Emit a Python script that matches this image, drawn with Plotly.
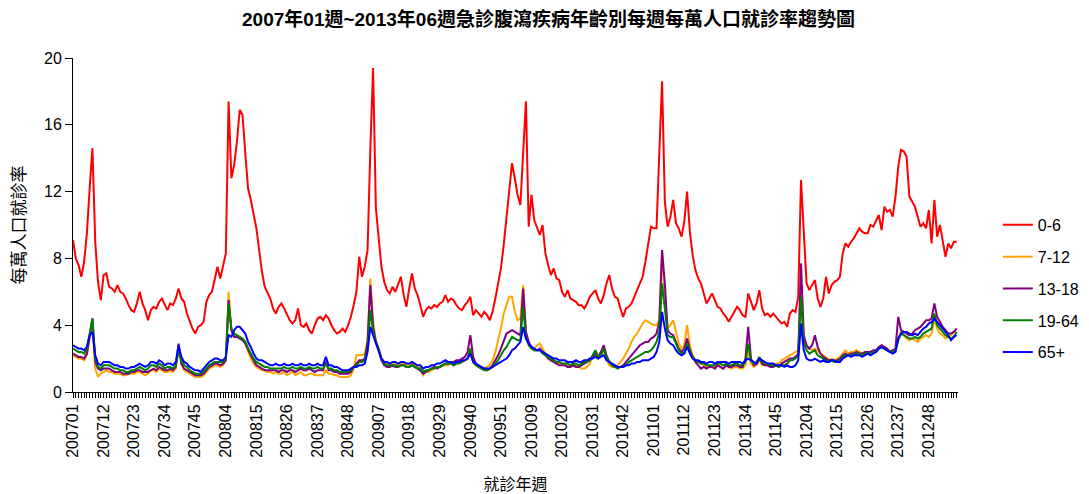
import plotly.graph_objects as go

# ---- categories ----
YEARS = [2007, 2008, 2009, 2010, 2011, 2012, 2013]
WEEKS_PER_YEAR = [52, 52, 53, 52, 52, 52, 6]
weeks = [f"{y}{w:02d}" for y, n in zip(YEARS, WEEKS_PER_YEAR) for w in range(1, n + 1)]

# ---- series values (per 10,000 population) ----
age_0_6 = (
    # 2007
    [9.1, 8.0, 7.6, 6.9, 7.8, 9.5, 12.2, 14.6, 9.0, 6.6,
     5.5, 7.0, 7.1, 6.3, 6.2, 6.0, 6.4, 6.0, 5.9, 5.6,
     5.2, 4.9, 4.8, 5.3, 6.0, 5.3, 4.9, 4.3, 4.9, 5.1,
     5.0, 5.4, 5.6, 5.2, 4.9, 5.3, 5.2, 5.6, 6.2, 5.6,
     5.4, 4.7, 4.2, 3.8, 3.5, 3.9, 4.0, 4.2, 5.4, 5.8,
     6.0, 6.8]
    # 2008
    + [7.5, 6.8, 7.6, 8.3, 17.4, 12.8, 13.6, 15.0, 16.9, 16.6,
       14.3, 12.2, 11.5, 10.6, 9.8, 8.5, 7.2, 6.3, 5.9, 5.6,
       5.0, 4.7, 5.1, 5.3, 5.0, 4.6, 4.3, 4.1, 4.3, 5.0,
       4.0, 3.9, 4.1, 3.7, 3.5, 4.0, 4.4, 4.5, 4.3, 4.6,
       4.4, 4.0, 3.7, 3.5, 3.6, 3.8, 3.6, 4.0, 4.5, 5.2,
       6.0, 8.1]
    # 2009
    + [6.9, 7.5, 8.5, 14.5, 19.4, 11.0, 9.1, 7.5, 6.6, 6.1,
       5.9, 6.3, 6.0, 6.4, 6.9, 5.8, 5.1, 6.2, 7.1, 6.2,
       5.8, 5.2, 4.5, 4.9, 5.1, 5.0, 5.2, 5.1, 5.3, 5.4,
       5.8, 5.4, 5.6, 5.5, 5.2, 5.0, 4.9, 5.2, 5.4, 5.7,
       4.6, 4.9, 4.7, 4.5, 4.8, 4.6, 4.3, 4.8, 5.6, 6.4,
       7.4, 8.8, 10.3]
    # 2010
    + [12.0, 13.7, 12.8, 11.8, 11.2, 14.0, 17.4, 9.9, 11.8, 10.3,
       9.9, 9.4, 10.0, 8.3, 7.6, 7.0, 7.4, 6.8, 6.7, 6.0,
       5.7, 6.1, 5.6, 5.5, 5.4, 5.2, 5.2, 5.0, 5.3, 5.7,
       5.9, 6.1, 5.6, 5.3, 5.8, 6.5, 7.0, 6.2, 5.7, 5.6,
       5.0, 4.5, 5.0, 5.1, 5.3, 5.7, 6.0, 6.5, 6.9, 7.8,
       9.0, 9.9]
    # 2011
    + [9.8, 9.8, 14.3, 18.6, 11.4, 9.9, 10.5, 11.5, 10.1, 9.8,
       9.3, 10.2, 12.0, 9.6, 8.2, 7.3, 6.8, 6.5, 5.9, 5.3,
       5.6, 5.9, 5.5, 5.1, 5.0, 4.7, 4.5, 4.2, 4.5, 4.8,
       5.1, 4.9, 4.6, 4.5, 5.9, 5.4, 4.9, 5.3, 6.1, 5.0,
       4.6, 4.7, 4.5, 4.7, 4.5, 4.3, 4.1, 4.2, 3.9, 4.7,
       4.9, 4.8]
    # 2012
    + [5.7, 12.7, 9.7, 6.5, 6.1, 6.4, 6.7, 5.6, 5.1, 5.6,
       6.9, 5.9, 6.4, 6.6, 6.7, 6.9, 8.3, 8.9, 8.7, 9.0,
       9.2, 9.5, 9.8, 9.6, 9.5, 9.5, 10.0, 9.9, 10.3, 10.6,
       9.7, 11.1, 10.8, 10.9, 10.5, 11.7, 13.5, 14.5, 14.4, 14.1,
       11.7, 11.4, 11.1, 10.5, 9.9, 10.1, 9.8, 10.9, 8.9, 11.5,
       9.3, 10.0]
    # 2013
    + [8.9, 8.1, 8.9, 8.6, 9.0, 9.0]
)

age_7_12 = (
    [2.2, 2.1, 2.0, 2.0, 1.9, 2.2, 3.2, 3.9, 1.4, 0.9,
     1.1, 1.2, 1.3, 1.2, 1.2, 1.1, 1.1, 1.1, 1.0, 1.0,
     1.1, 1.1, 1.1, 1.2, 1.2, 1.1, 1.0, 1.1, 1.3, 1.3,
     1.2, 1.4, 1.3, 1.2, 1.2, 1.3, 1.2, 1.4, 2.6, 1.7,
     1.3, 1.2, 1.1, 1.0, 0.9, 0.9, 0.9, 1.0, 1.2, 1.4,
     1.5, 1.6]
    + [1.6, 1.5, 1.6, 1.9, 6.0, 3.7, 3.4, 3.3, 3.3, 3.2,
       2.9, 2.4, 2.0, 1.7, 1.5, 1.4, 1.3, 1.3, 1.2, 1.2,
       1.1, 1.2, 1.1, 1.1, 1.2, 1.0, 1.1, 1.2, 1.0, 1.1,
       1.2, 1.0, 1.0, 1.1, 1.1, 1.0, 1.0, 1.0, 1.0, 1.3,
       1.1, 1.1, 1.0, 1.0, 0.9, 0.9, 0.9, 0.9, 1.0, 1.4,
       2.2, 2.2]
    + [2.2, 2.3, 3.1, 6.8, 4.2, 3.1, 2.6, 2.0, 1.8, 1.7,
       1.7, 1.7, 1.7, 1.6, 1.7, 1.7, 1.6, 1.6, 1.7, 1.6,
       1.5, 1.4, 1.0, 1.2, 1.2, 1.3, 1.4, 1.5, 1.5, 1.6,
       1.6, 1.6, 1.7, 1.6, 1.7, 1.8, 1.8, 1.9, 2.0, 2.6,
       1.9, 1.6, 1.5, 1.5, 1.4, 1.5, 1.6, 1.9, 2.4, 3.1,
       3.8, 4.7, 5.2]
    + [5.7, 5.7, 4.8, 4.3, 4.4, 6.4, 3.5, 3.0, 2.6, 2.6,
       2.8, 2.9, 2.6, 2.3, 2.1, 1.9, 1.9, 1.8, 1.7, 1.7,
       1.7, 1.6, 1.6, 1.7, 1.6, 1.5, 1.4, 1.4, 1.5, 1.7,
       2.1, 2.2, 2.0, 2.3, 2.5, 2.0, 1.6, 1.5, 1.5, 1.6,
       1.8, 2.0, 2.3, 2.6, 3.0, 3.3, 3.5, 3.8, 4.1, 4.3,
       4.2, 4.1]
    + [4.0, 4.0, 4.3, 8.4, 5.5, 3.8, 4.0, 4.3, 3.5, 2.9,
       2.6, 2.8, 4.0, 2.8, 2.2, 1.9, 1.8, 1.7, 1.6, 1.5,
       1.5, 1.5, 1.5, 1.6, 1.5, 1.4, 1.6, 1.5, 1.4, 1.5,
       1.5, 1.4, 1.4, 1.6, 2.5, 1.7, 1.5, 1.6, 1.9, 1.6,
       1.6, 1.6, 1.6, 1.6, 1.7, 1.7, 1.9, 2.0, 2.1, 2.2,
       2.3, 2.4]
    + [2.5, 5.5, 3.2, 2.7, 2.6, 2.5, 2.6, 2.5, 2.3, 2.2,
       2.1, 1.9, 2.0, 1.9, 2.0, 2.1, 2.3, 2.5, 2.3, 2.4,
       2.4, 2.5, 2.4, 2.3, 2.4, 2.4, 2.3, 2.4, 2.4, 2.7,
       2.8, 2.6, 2.5, 2.4, 2.5, 2.5, 3.2, 3.6, 3.4, 3.2,
       3.1, 3.2, 3.1, 3.0, 3.2, 3.3, 3.4, 3.3, 3.5, 4.4,
       3.8, 3.5]
    + [3.4, 3.2, 3.3, 3.4, 3.6, 3.8]
)

age_13_18 = (
    [2.3, 2.2, 2.1, 2.1, 2.0, 2.3, 3.4, 4.4, 1.8, 1.4,
     1.3, 1.4, 1.4, 1.4, 1.3, 1.2, 1.2, 1.2, 1.1, 1.1,
     1.1, 1.2, 1.2, 1.3, 1.3, 1.2, 1.2, 1.2, 1.3, 1.4,
     1.3, 1.5, 1.4, 1.3, 1.3, 1.4, 1.3, 1.5, 2.9, 1.7,
     1.4, 1.3, 1.2, 1.1, 1.0, 1.0, 1.0, 1.1, 1.3, 1.5,
     1.6, 1.7]
    + [1.7, 1.6, 1.7, 1.9, 5.5, 3.7, 3.3, 3.3, 3.2, 3.1,
       2.9, 2.5, 2.2, 1.9, 1.6, 1.5, 1.4, 1.3, 1.3, 1.3,
       1.3, 1.3, 1.2, 1.3, 1.3, 1.2, 1.3, 1.3, 1.2, 1.3,
       1.4, 1.3, 1.3, 1.4, 1.3, 1.2, 1.3, 1.3, 1.3, 1.8,
       1.3, 1.3, 1.2, 1.2, 1.1, 1.1, 1.1, 1.1, 1.2, 1.5,
       1.7, 1.9]
    + [1.9, 2.0, 3.0, 6.4, 3.9, 3.0, 2.5, 1.9, 1.6, 1.5,
       1.5, 1.6, 1.5, 1.5, 1.6, 1.6, 1.5, 1.5, 1.6, 1.5,
       1.4, 1.3, 1.1, 1.2, 1.3, 1.4, 1.5, 1.4, 1.5, 1.6,
       1.7, 1.7, 1.8, 1.8, 1.9, 1.9, 2.0, 2.1, 2.4, 3.4,
       2.1, 1.7, 1.5, 1.4, 1.4, 1.3, 1.4, 1.6, 1.9, 2.2,
       2.6, 3.0, 3.5]
    + [3.6, 3.7, 3.6, 3.5, 3.4, 6.2, 3.6, 3.0, 2.7, 2.5,
       2.5, 2.6, 2.4, 2.2, 2.0, 1.9, 1.8, 1.7, 1.6, 1.6,
       1.6, 1.5, 1.5, 1.6, 1.5, 1.5, 1.6, 1.7, 1.8, 1.9,
       2.1, 2.3, 2.1, 2.4, 2.8, 2.2, 1.8, 1.6, 1.5, 1.5,
       1.5, 1.6, 1.8, 2.0, 2.2, 2.4, 2.6, 2.8, 2.9, 3.0,
       3.0, 3.2]
    + [3.3, 3.5, 4.2, 8.5, 6.5, 3.7, 3.5, 3.4, 3.0, 2.6,
       2.4, 2.6, 3.2, 2.5, 2.1, 1.8, 1.6, 1.4, 1.5, 1.4,
       1.5, 1.5, 1.4, 1.6, 1.5, 1.4, 1.6, 1.5, 1.5, 1.6,
       1.6, 1.5, 1.5, 2.0, 3.9, 2.0, 1.6, 1.7, 2.0, 1.7,
       1.6, 1.6, 1.5, 1.5, 1.6, 1.5, 1.7, 1.8, 1.9, 2.0,
       2.0, 2.1]
    + [2.3, 7.7, 3.4, 2.8, 2.6, 2.8, 3.4, 2.7, 2.3, 2.1,
       2.0, 1.9, 1.9, 1.8, 1.9, 2.0, 2.2, 2.3, 2.2, 2.3,
       2.3, 2.4, 2.3, 2.3, 2.4, 2.4, 2.4, 2.5, 2.5, 2.7,
       2.8, 2.7, 2.6, 2.4, 2.5, 2.6, 4.5, 3.7, 3.6, 3.5,
       3.4, 3.5, 3.7, 3.8, 3.9, 4.1, 4.3, 4.3, 4.4, 5.3,
       4.5, 4.2]
    + [3.9, 3.7, 3.5, 3.5, 3.6, 3.8]
)

age_19_64 = (
    [2.6, 2.5, 2.4, 2.4, 2.3, 2.6, 3.6, 4.4, 2.0, 1.5,
     1.4, 1.6, 1.6, 1.6, 1.5, 1.4, 1.4, 1.3, 1.3, 1.2,
     1.2, 1.3, 1.3, 1.4, 1.5, 1.4, 1.3, 1.4, 1.6, 1.6,
     1.5, 1.7, 1.6, 1.4, 1.5, 1.5, 1.4, 1.6, 2.5, 1.9,
     1.6, 1.5, 1.3, 1.2, 1.1, 1.1, 1.1, 1.2, 1.4, 1.6,
     1.7, 1.8]
    + [1.8, 1.8, 1.8, 2.0, 5.3, 3.8, 3.5, 3.4, 3.3, 3.2,
       3.0, 2.6, 2.3, 2.0, 1.8, 1.7, 1.6, 1.5, 1.5, 1.4,
       1.4, 1.4, 1.4, 1.4, 1.5, 1.4, 1.4, 1.5, 1.4, 1.4,
       1.5, 1.4, 1.4, 1.5, 1.4, 1.4, 1.5, 1.4, 1.4, 1.7,
       1.4, 1.4, 1.3, 1.3, 1.2, 1.2, 1.2, 1.2, 1.3, 1.5,
       1.6, 1.8]
    + [1.8, 1.9, 2.6, 4.9, 3.6, 3.0, 2.6, 2.0, 1.7, 1.6,
       1.6, 1.6, 1.6, 1.5, 1.6, 1.6, 1.5, 1.5, 1.6, 1.5,
       1.4, 1.4, 1.2, 1.3, 1.3, 1.4, 1.4, 1.5, 1.5, 1.6,
       1.7, 1.7, 1.7, 1.6, 1.7, 1.7, 1.8, 1.9, 2.0, 2.6,
       1.8, 1.6, 1.5, 1.4, 1.3, 1.3, 1.4, 1.5, 1.7, 1.9,
       2.2, 2.5, 2.7]
    + [3.0, 3.3, 3.2, 3.1, 3.1, 5.1, 3.3, 2.8, 2.6, 2.5,
       2.5, 2.5, 2.3, 2.2, 2.1, 2.0, 1.9, 1.8, 1.8, 1.7,
       1.7, 1.7, 1.6, 1.7, 1.7, 1.6, 1.7, 1.8, 1.8, 1.9,
       2.2, 2.5, 2.1, 2.2, 2.6, 2.1, 1.8, 1.6, 1.5, 1.4,
       1.5, 1.5, 1.6, 1.8, 1.9, 2.0, 2.1, 2.2, 2.3, 2.4,
       2.4, 2.5]
    + [2.7, 3.0, 3.6, 6.5, 5.0, 3.4, 3.3, 3.3, 2.9, 2.5,
       2.3, 2.4, 2.9, 2.4, 2.1, 1.9, 1.8, 1.7, 1.7, 1.6,
       1.6, 1.6, 1.6, 1.7, 1.7, 1.6, 1.7, 1.6, 1.6, 1.7,
       1.7, 1.6, 1.6, 1.8, 2.9, 1.9, 1.7, 1.8, 2.1, 1.8,
       1.7, 1.7, 1.6, 1.6, 1.6, 1.5, 1.6, 1.6, 1.7, 1.9,
       1.9, 2.0]
    + [2.2, 5.7, 3.0, 2.5, 2.3, 2.4, 2.5, 2.2, 2.1, 2.0,
       1.9, 1.8, 1.9, 1.8, 1.8, 1.9, 2.1, 2.2, 2.2, 2.2,
       2.2, 2.3, 2.3, 2.2, 2.3, 2.3, 2.3, 2.4, 2.4, 2.6,
       2.7, 2.6, 2.5, 2.4, 2.4, 2.5, 3.1, 3.5, 3.4, 3.3,
       3.2, 3.2, 3.3, 3.2, 3.3, 3.5, 3.6, 3.7, 3.8, 4.7,
       4.0, 3.8]
    + [3.6, 3.4, 3.3, 3.2, 3.3, 3.6]
)

age_65_plus = (
    [2.8, 2.7, 2.6, 2.6, 2.5, 2.7, 3.4, 3.6, 2.2, 1.7,
     1.6, 1.8, 1.8, 1.8, 1.7, 1.6, 1.6, 1.5, 1.5, 1.4,
     1.4, 1.5, 1.5, 1.6, 1.7, 1.6, 1.5, 1.6, 1.8, 1.8,
     1.7, 1.9, 1.8, 1.6, 1.7, 1.7, 1.6, 1.8, 2.8, 2.1,
     1.8, 1.7, 1.5, 1.4, 1.3, 1.3, 1.2, 1.4, 1.6, 1.8,
     1.9, 2.0]
    + [2.0, 1.9, 1.9, 2.1, 3.4, 3.3, 3.7, 3.9, 3.9, 3.7,
       3.5, 3.0, 2.7, 2.3, 2.0, 1.9, 1.9, 1.8, 1.7, 1.6,
       1.6, 1.7, 1.6, 1.6, 1.7, 1.6, 1.6, 1.7, 1.6, 1.6,
       1.7, 1.6, 1.6, 1.7, 1.6, 1.6, 1.7, 1.6, 1.6, 2.1,
       1.6, 1.6, 1.5, 1.5, 1.4, 1.3, 1.3, 1.3, 1.4, 1.5,
       1.5, 1.6]
    + [1.6, 1.7, 2.4, 3.9, 3.4, 2.9, 2.5, 2.0, 1.8, 1.8,
       1.7, 1.8, 1.8, 1.7, 1.8, 1.8, 1.7, 1.7, 1.8, 1.7,
       1.6, 1.6, 1.4, 1.5, 1.5, 1.6, 1.6, 1.7, 1.7, 1.8,
       1.9, 1.8, 1.8, 1.7, 1.8, 1.8, 1.9, 1.9, 2.0, 2.3,
       1.8, 1.7, 1.6, 1.5, 1.4, 1.4, 1.4, 1.5, 1.6, 1.7,
       1.8, 1.9, 2.0]
    + [2.2, 2.5, 2.6, 2.8, 3.0, 3.9, 3.2, 2.9, 2.7, 2.6,
       2.5, 2.5, 2.4, 2.3, 2.2, 2.1, 2.0, 2.0, 1.9, 1.9,
       1.9, 1.8, 1.8, 1.8, 1.9, 1.8, 1.8, 1.9, 1.9, 2.0,
       2.0, 2.1, 2.0, 2.1, 2.2, 1.9, 1.8, 1.7, 1.6, 1.5,
       1.5, 1.5, 1.6, 1.6, 1.7, 1.7, 1.8, 1.8, 1.9, 1.9,
       1.9, 2.0]
    + [2.1, 2.4, 3.0, 4.8, 3.8, 3.1, 2.9, 2.8, 2.5, 2.3,
       2.2, 2.3, 2.7, 2.3, 2.0, 1.9, 1.9, 1.8, 1.8, 1.7,
       1.8, 1.8, 1.7, 1.8, 1.8, 1.8, 1.8, 1.7, 1.8, 1.8,
       1.8, 1.8, 1.7, 1.9, 2.0, 1.9, 1.8, 1.7, 2.0, 1.9,
       1.8, 1.7, 1.7, 1.7, 1.6, 1.6, 1.6, 1.5, 1.6, 1.5,
       1.5, 1.6]
    + [1.9, 4.1, 2.5, 2.0, 1.9, 1.9, 2.0, 1.9, 1.8, 1.9,
       1.8, 1.8, 1.9, 1.9, 1.8, 1.8, 2.0, 2.1, 2.2, 2.1,
       2.2, 2.2, 2.2, 2.1, 2.2, 2.3, 2.2, 2.3, 2.4, 2.6,
       2.7, 2.6, 2.5, 2.4, 2.3, 2.4, 3.2, 3.5, 3.6, 3.6,
       3.5, 3.4, 3.5, 3.4, 3.6, 3.8, 3.9, 4.1, 4.2, 4.4,
       4.2, 4.0]
    + [3.8, 3.6, 3.4, 3.1, 3.3, 3.4]
)

series_names = ["0-6", "7-12", "13-18", "19-64", "65+"]
series_values = [age_0_6, age_7_12, age_13_18, age_19_64, age_65_plus]
series_colors = ["#FF0000", "#FFA500", "#800080", "#008000", "#0000FF"]

for nm, vals in zip(series_names, series_values):
    assert len(vals) == len(weeks), (nm, len(vals), len(weeks))

tick_step = 11
tick_text = [w if i % tick_step == 0 else "" for i, w in enumerate(weeks)]

FONT = "Liberation Sans, Arial, Noto Sans CJK TC, sans-serif"

fig = go.Figure()
for nm, vals, col in zip(series_names, series_values, series_colors):
    fig.add_trace(go.Scatter(
        x=weeks, y=vals, name=nm, mode="lines",
        line=dict(color=col, width=2), legendgroup=nm,
    ))

# the page body adds an 8px margin, so the figure is sized to fit the window
fig.update_layout(
    width=1081, height=486,
    margin=dict(l=65, r=131, t=50, b=102, autoexpand=False),
    paper_bgcolor="white", plot_bgcolor="white",
    font=dict(family=FONT, size=16, color="#000000"),
    title=dict(
        text="<b>2007年01週~2013年06週急診腹瀉疾病年齡別每週每萬人口就診率趨勢圖</b>",
        x=0.5, xanchor="center", y=0.977, yanchor="middle",
        font=dict(family="Liberation Sans, Noto Sans CJK TC, sans-serif", size=19, color="#000000"),
    ),
    showlegend=True,
    legend=dict(
        x=1.045, xanchor="left", y=0.31, yanchor="middle",
        font=dict(size=16, color="#000000"),
        tracegroupgap=8, bgcolor="rgba(0,0,0,0)",
    ),
    xaxis=dict(
        type="category", categoryorder="array", categoryarray=weeks,
        range=[0, len(weeks) - 0.5],
        tickmode="array", tickvals=weeks, ticktext=tick_text,
        tickangle=-90, ticks="outside", ticklen=5, tickwidth=1, tickcolor="#000000",
        tickfont=dict(size=16),
        showline=True, linecolor="#000000", linewidth=1,
        showgrid=False, zeroline=False, automargin=False,
        title=dict(text="就診年週", font=dict(size=16), standoff=22),
    ),
    yaxis=dict(
        range=[0, 20], tickmode="array", tickvals=[0, 4, 8, 12, 16, 20],
        ticks="outside", ticklen=7, tickcolor="#000000",
        tickfont=dict(size=16),
        showline=True, linecolor="#000000", linewidth=1,
        showgrid=False, zeroline=False, automargin=False,
        title=dict(text="每萬人口就診率", font=dict(size=17), standoff=14),
    ),
)

fig.write_html("out.html")
